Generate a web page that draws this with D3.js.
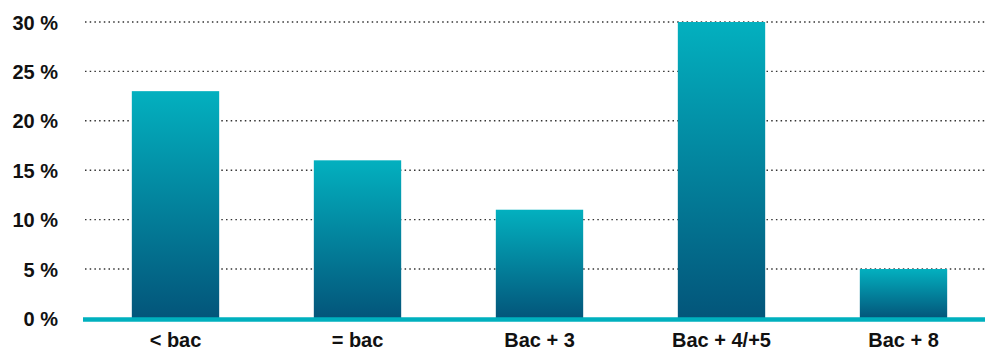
<!DOCTYPE html>
<html>
<head>
<meta charset="utf-8">
<script src="https://cdn.jsdelivr.net/npm/d3@7"></script>
<style>
  html, body { margin: 0; padding: 0; background: #fff; }
  svg { display: block; }
  text { font-family: "Liberation Sans", Arial, Helvetica, sans-serif; font-weight: bold; fill: #111; }
</style>
</head>
<body>
<svg id="chart" width="985" height="350"></svg>
<script>
const categories = ["< bac", "= bac", "Bac + 3", "Bac + 4/+5", "Bac + 8"];
const shares = [23, 16, 11, 30, 5];
const yTicks = [0, 5, 10, 15, 20, 25, 30];

const svg = d3.select("#chart");
const W = 985;

const x = d3.scaleBand()
  .domain(categories)
  .range([84.5, 994.5])
  .paddingInner(0.52)
  .paddingOuter(0.26);

const y = d3.scaleLinear()
  .domain([0, 30])
  .range([318.4, 22]);

// vertical gradient, light teal at the top fading to deep blue
const defs = svg.append("defs");
const grad = defs.append("linearGradient")
  .attr("id", "barFill")
  .attr("x1", 0).attr("y1", 0).attr("x2", 0).attr("y2", 1);
grad.append("stop").attr("offset", "0%").attr("stop-color", "#03b0bf");
grad.append("stop").attr("offset", "100%").attr("stop-color", "#03557a");

// dotted gridlines
svg.append("g")
  .selectAll("line")
  .data(yTicks.filter(d => d > 0))
  .join("line")
  .attr("x1", 85).attr("x2", W)
  .attr("y1", d => y(d)).attr("y2", d => y(d))
  .attr("stroke", "#333")
  .attr("stroke-width", 1.4)
  .attr("stroke-dasharray", "1.5,3.2");

// y axis labels
svg.append("g")
  .selectAll("text")
  .data(yTicks)
  .join("text")
  .attr("x", 58)
  .attr("y", d => y(d) + 7.5)
  .attr("text-anchor", "end")
  .attr("font-size", 20)
  .text(d => d + " %");

// bars
svg.append("g")
  .selectAll("rect")
  .data(shares)
  .join("rect")
  .attr("x", (d, i) => x(categories[i]))
  .attr("width", x.bandwidth())
  .attr("y", d => y(d))
  .attr("height", d => y(0) - y(d))
  .attr("fill", "url(#barFill)");

// baseline
svg.append("line")
  .attr("x1", 83).attr("x2", W)
  .attr("y1", 319.5).attr("y2", 319.5)
  .attr("stroke", "#00b0be")
  .attr("stroke-width", 4.4);

// category labels
svg.append("g")
  .selectAll("text")
  .data(categories)
  .join("text")
  .attr("x", d => x(d) + x.bandwidth() / 2)
  .attr("y", 346.5)
  .attr("text-anchor", "middle")
  .attr("font-size", 20)
  .text(d => d);
</script>
</body>
</html>
